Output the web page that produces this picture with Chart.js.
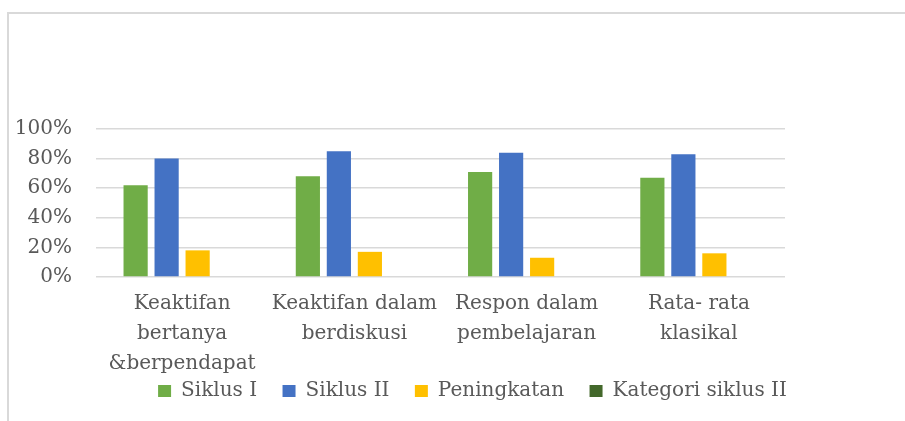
<!DOCTYPE html>
<html lang="id">
<head>
    <meta charset="UTF-8">
    <title>Siklus</title>
    <script src="https://cdn.jsdelivr.net/npm/chart.js@4.4.1/dist/chart.umd.min.js"></script>
    <style>
        html, body { margin: 0; padding: 0; background: #ffffff; overflow: hidden; }
        #wrap { position: relative; width: 905px; height: 421px; overflow: hidden; }
        #frame { position: absolute; left: 7px; top: 12px; width: 1200px; height: 600px;
                 border-top: 2px solid #d9d9d9; border-left: 2px solid #d9d9d9; }
        #box { position: absolute; left: 0; top: 0; width: 905px; height: 421px; }
    </style>
</head>
<body>
<div id="wrap">
    <div id="frame"></div>
    <div id="box"><canvas id="myChart" width="905" height="421"></canvas></div>
</div>

<script type="text/javascript">
    // data
    var categories = [
        ["Keaktifan", "bertanya", "&berpendapat"],
        ["Keaktifan dalam", "berdiskusi"],
        ["Respon dalam", "pembelajaran"],
        ["Rata- rata", "klasikal"]
    ];
    var seriesNames = ["Siklus I", "Siklus II", "Peningkatan", "Kategori siklus II"];
    var siklus1 = [0.62, 0.68, 0.71, 0.67];
    var siklus2 = [0.80, 0.85, 0.84, 0.83];
    var peningkatan = [0.18, 0.17, 0.13, 0.16];
    var kategori2 = [null, null, null, null];
    var yStep = 0.2;

    var colors = ["#70ad47", "#4472c4", "#ffc000", "#43682b"];
    var font = {family: "'DejaVu Serif', serif", size: 20};
    var values = [siklus1, siklus2, peningkatan, kategori2];

    var datasets = [];
    for (var i = 0; i < seriesNames.length; i++) {
        datasets.push({
            label: seriesNames[i],
            data: values[i],
            backgroundColor: colors[i],
            borderWidth: 0,
            barPercentage: 0.78,
            categoryPercentage: 0.72
        });
    }

    // the legend sits a bit right of the page centre, as in the picture
    var legendShift = {
        id: "legendShift",
        afterLayout: function (chart) {
            chart.legend.left += 13;
            chart.legend.right += 13;
        }
    };

    var ctx = document.getElementById("myChart");
    new Chart(ctx, {
        type: "bar",
        data: {
            labels: categories,
            datasets: datasets
        },
        plugins: [legendShift],
        options: {
            responsive: false,
            animation: false,
            devicePixelRatio: 1,
            layout: {padding: {left: 14, right: 0, top: 129, bottom: 10}},
            plugins: {
                tooltip: {enabled: false},
                legend: {
                    position: "bottom",
                    labels: {
                        color: "#595959",
                        font: font,
                        boxWidth: 13,
                        boxHeight: 12,
                        padding: 0,
                        generateLabels: function (chart) {
                            var items = Chart.defaults.plugins.legend.labels.generateLabels(chart);
                            for (var k = 0; k < items.length - 1; k++) {
                                items[k].text += "    ";
                            }
                            return items;
                        }
                    }
                }
            },
            scales: {
                x: {
                    afterFit: function (scale) { scale.height = scale.height - 10; },
                    grid: {display: false, drawTicks: false},
                    border: {display: false},
                    ticks: {
                        color: "#595959",
                        font: {family: font.family, size: 20, lineHeight: 1.5},
                        padding: 12,
                        maxRotation: 0,
                        autoSkip: false
                    }
                },
                y: {
                    min: 0,
                    max: 1,
                    afterFit: function (scale) { scale.width = 82; },
                    grid: {color: "#d9d9d9", lineWidth: 1.5, drawTicks: false},
                    border: {display: false},
                    ticks: {
                        stepSize: yStep,
                        autoSkip: false,
                        color: "#595959",
                        font: font,
                        padding: 24,
                        callback: function (v) { return Math.round(v * 100) + "%"; }
                    }
                },
                y2: {
                    position: "right",
                    display: true,
                    grid: {display: false},
                    border: {display: false},
                    ticks: {display: false},
                    afterFit: function (scale) { scale.width = 120; }
                }
            }
        }
    });
</script>
</body>
</html>
